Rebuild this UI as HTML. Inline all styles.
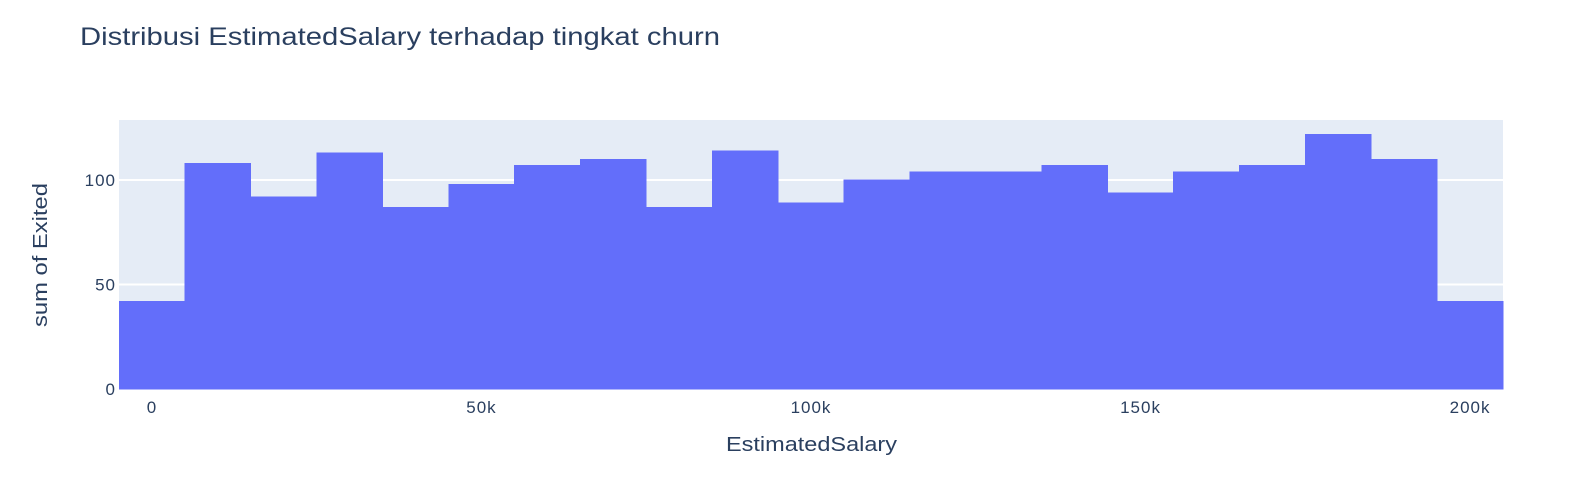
<!DOCTYPE html>
<html><head><meta charset="utf-8"><style>
html,body{margin:0;padding:0;background:#fff;}
svg{display:block;font-family:"Liberation Sans",Arial,sans-serif;}
</style></head><body>
<svg id="chart" width="1569" height="488">
<rect x="0" y="0" width="1569" height="488" fill="#fff"/>
<text x="80" y="45" font-size="25" fill="#2a3f5f" textLength="640" lengthAdjust="spacingAndGlyphs">Distribusi EstimatedSalary terhadap tingkat churn</text>
<rect x="119" y="120" width="1384" height="269" fill="#e5ecf6"/>
<g id="grid"></g>
<g id="bars" shape-rendering="crispEdges"></g>
<g id="axes"></g>
<text x="726" y="451" font-size="20" fill="#2a3f5f" textLength="171" lengthAdjust="spacingAndGlyphs">EstimatedSalary</text>
<text transform="translate(47,327) rotate(-90)" font-size="20" fill="#2a3f5f" textLength="144" lengthAdjust="spacingAndGlyphs">sum of Exited</text>
</svg>
<script>
const binStarts = [-5000,5000,15000,25000,35000,45000,55000,65000,75000,85000,95000,105000,115000,125000,135000,145000,155000,165000,175000,185000,195000];
const binValues = [42,108,92,113,87,98,107,110,87,114,89,100,104,104,107,94,104,107,122,110,42];
const binWidth = 10000;
const xTicks = [0,50000,100000,150000,200000];
const xTickLabels = ["0","50k","100k","150k","200k"];
const yTicks = [0,50,100];
const yTickLabels = ["0","50","100"];

const X0=119, X1=1503, Y0=389, Y1=120;
const xMin=-5000, xMax=205000, yMin=0, yMax=128.7;
const xs = v => X0 + (v-xMin)/(xMax-xMin)*(X1-X0);
const ys = v => Y0 - (v-yMin)/(yMax-yMin)*(Y0-Y1);
const NS="http://www.w3.org/2000/svg";
const grid=document.getElementById('grid'), bars=document.getElementById('bars'), axes=document.getElementById('axes');

yTicks.forEach((t,i)=>{
  if(t!==0){
    const l=document.createElementNS(NS,'line');
    
    
    l.setAttribute('x1',X0);l.setAttribute('x2',X1);
    l.setAttribute('y1',ys(t));l.setAttribute('y2',ys(t));
    l.setAttribute('stroke','#fff');l.setAttribute('stroke-width','2');
    grid.appendChild(l);
  }
  const tx=document.createElementNS(NS,'text');
  
  
  tx.setAttribute('x',X0-3);tx.setAttribute('y',ys(t)+6);
  tx.setAttribute('text-anchor','end');tx.setAttribute('font-size','17');tx.setAttribute('fill','#2a3f5f');
  tx.setAttribute('letter-spacing','1');
  tx.textContent=yTickLabels[i];
  axes.appendChild(tx);
});
xTicks.forEach((t,i)=>{
  const tx=document.createElementNS(NS,'text');
  
  
  tx.setAttribute('x',xs(t));tx.setAttribute('y',Y0+24);
  tx.setAttribute('text-anchor','middle');tx.setAttribute('font-size','17');tx.setAttribute('fill','#2a3f5f');
  tx.setAttribute('letter-spacing','1');
  tx.textContent=xTickLabels[i];
  axes.appendChild(tx);
});
binStarts.forEach((s,i)=>{
  const r=document.createElementNS(NS,'rect');
  
  
  const x=xs(s), w=xs(s+binWidth)-x, y=ys(binValues[i]);
  r.setAttribute('x',x);r.setAttribute('width',w);
  r.setAttribute('y',y);r.setAttribute('height',Y0-y);
  r.setAttribute('fill','#636efa');
  r.setAttribute('stroke','#636efa');r.setAttribute('stroke-width','0.5');
  bars.appendChild(r);
});
</script>
</body></html>
